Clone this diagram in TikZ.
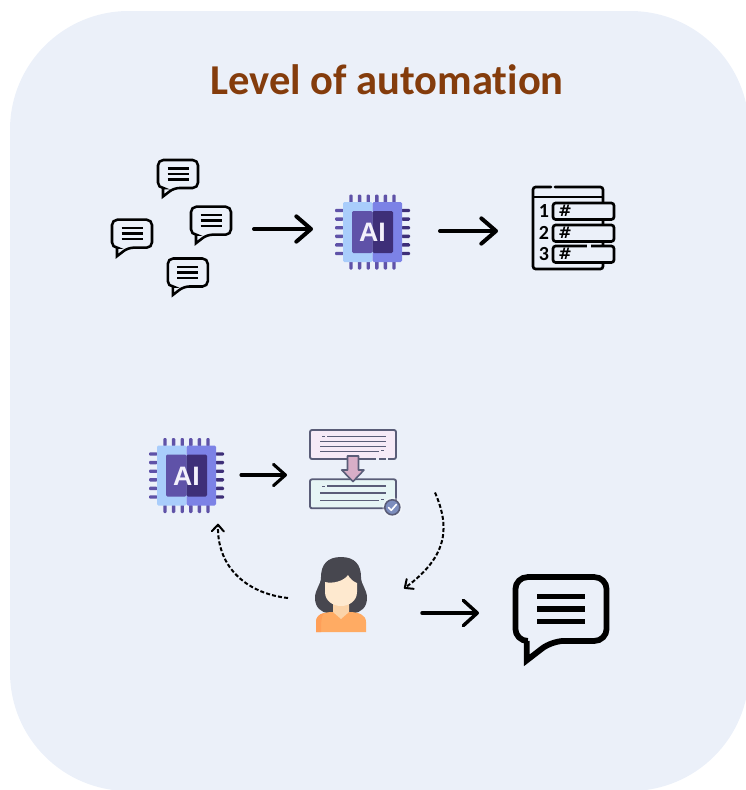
\documentclass[tikz,border=0pt]{standalone}
\usepackage{fontspec}
\usepackage{xcolor}
\usetikzlibrary{arrows.meta,positioning,calc}
\newfontfamily\carlito{Carlito}[Ligatures=NoCommon]
\newfontfamily\chipfont{Liberation Sans}
\newfontfamily\hashfont{DejaVu Sans}
\definecolor{panelbg}{HTML}{EBF0F9}
\definecolor{titlebrown}{HTML}{843C0C}
\definecolor{chiplight}{HTML}{A9CDFB}
\definecolor{chipmid}{HTML}{7C82E6}
\definecolor{chipcore}{HTML}{5F52A8}
\definecolor{chipdark}{HTML}{3E2F78}
\definecolor{chiptext}{HTML}{F3F0FB}
\definecolor{editline}{HTML}{5A5D78}
\definecolor{editpink}{HTML}{F6EAF7}
\definecolor{editmint}{HTML}{E6F5F5}
\definecolor{editarrow}{HTML}{D8AEC7}
\definecolor{editbadge}{HTML}{7C8DBD}
\definecolor{hairdark}{HTML}{47474F}
\definecolor{skinlight}{HTML}{FEE9CF}
\definecolor{skindark}{HTML}{FBD3A8}
\definecolor{shirt}{HTML}{FFAB63}
\definecolor{shirtdark}{HTML}{FF9F58}
\tikzset{
	spot/.style={inner sep=0pt,outer sep=0pt,minimum width=#1*0.75pt},
	bigarrow/.style={->,>={Straight Barb[round,length=11pt,width=19pt]},line width=3pt,line cap=round},
	midarrow/.style={->,>={Straight Barb[round,length=9pt,width=16pt]},line width=2.3pt,line cap=round},
	smallarrow/.style={->,>={Straight Barb[round,length=10.5pt,width=19pt]},line width=2.6pt,line cap=round},
	dasharrow/.style={->,>={Straight Barb[round,length=5pt,width=9pt]},line width=1.5pt,dash pattern=on 3pt off 1.6pt},
	pics/bubble/.style={code={
		\begin{scope}[scale=#1]
			\draw[line width=#1*1.9pt,line join=miter]
				(0,-14) [rounded corners=#1*4pt] -- (20,-14) -- (20,14) -- (-4,14) [sharp corners] -- (-15,22.5) -- (-15,14)
				[rounded corners=#1*4pt] -- (-20,14) -- (-20,-14) -- cycle;
			\foreach \y in {-5.5,0,5.5}
				\draw[line width=#1*1.9pt] (-10.5,\y) -- (10.5,\y);
		\end{scope}
	}},
	pics/chip/.style={code={
		% pins as filled bars
		\foreach \p in {-21.5,-12.9,-4.3,4.3,12.9,21.5}{
			\fill[chipcore,rounded corners=0.8pt] (\p-1.7,-37.5) rectangle (\p+1.7,-29);
			\fill[chipcore,rounded corners=0.8pt] (\p-1.7,29) rectangle (\p+1.7,37.5);
			\fill[chipcore,rounded corners=0.8pt] (-37.5,\p-1.7) rectangle (-29,\p+1.7);
			\fill[chipdark,rounded corners=0.8pt] (29,\p-1.7) rectangle (37.5,\p+1.7);
		}
		\fill[chiplight,rounded corners=1pt] (-29.5,-30) rectangle (0,30);
		\fill[chipmid,rounded corners=1pt] (0,-30) rectangle (29.5,30);
		\fill[chipcore,rounded corners=1pt] (-20.5,-21) rectangle (0,21);
		\fill[chipdark,rounded corners=1pt] (0,-21) rectangle (20.5,21);
		\node[text=chiptext] (-ailabel) at (0,0.5) {\chipfont\bfseries\fontsize{20}{20}\selectfont AI};
	}},
	pics/rankicon/.style={code={
		\draw[line width=2pt,line cap=round,rounded corners=2pt] (-22,-41) -- (-40,-41) -- (-40,41) -- (30,41) -- (30,-41) -- (-18,-41);
		\draw[line width=2pt] (-40,-31) -- (30,-31);
		\foreach \y/\n in {-25/1,-3/2,18/3}{
			\draw[line width=2pt,fill=panelbg,rounded corners=2pt] (-20,\y) rectangle (41,\y+16.5);
			\node (-num\n) at (-29,\y+8) {\carlito\bfseries\fontsize{15}{15}\selectfont\n};
			\node (-hash\n) at (-8,\y+8) {\hashfont\bfseries\fontsize{12}{12}\selectfont\#};
		}
		\draw[panelbg,line width=2.6pt] (14,18) -- (18,18);
	}},
	pics/editicon/.style={code={
		\draw[editline,line width=1.4pt,fill=editpink,rounded corners=1.5pt] (-43,-45) rectangle (43,-16);
		\draw[editline,line width=1.4pt,fill=editmint,rounded corners=1.5pt] (-43,4.3) rectangle (43,33.3);
		\foreach \y/\a/\b in {-38.5/-26/33,-33.5/-33/33,-28.5/-33/33,-23.5/-33/26,11/-26/33,18/-33/33,25.5/-33/26}
			\draw[editline,line width=0.9pt] (\a,\y) -- (\b,\y);
		\draw[editline,line width=0.6pt] (-31,-38.5) -- (-28,-38.5) (28,-24.5) -- (31,-24.5) (-31,11) -- (-28,11) (28,24.5) -- (31,24.5);
		\draw[panelbg,line width=1.6pt] (23,-16) -- (25.5,-16) (33,-16) -- (35,-16);
		\draw[editline,line width=1.2pt,fill=editarrow,line join=round] (-5.5,-19) -- (5.5,-19) -- (5.5,-5) -- (11,-5) -- (0,6.5) -- (-11.3,-5) -- (-5.5,-5) -- cycle;
		\fill[white,opacity=.35] (39.3,32.3) circle (10);
		\draw[editline,line width=1.2pt,fill=editbadge] (39.3,32.3) circle (7.5);
		\draw[white,line width=1.2pt,line cap=round,line join=round] (35.5,32.5) -- (38.3,35.3) -- (43.3,29.5);
	}},
	pics/agent/.style={code={
		% hair, then shirt, neck and face on top of it
		\fill[hairdark] (0,-38) .. controls (14,-38) and (20,-30) .. (20,-18) .. controls (20,-10) and (26,-6) .. (26,3)
			.. controls (26,12) and (20,18) .. (12,18) -- (-12,18) .. controls (-20,18) and (-26,12) .. (-26,3)
			.. controls (-26,-6) and (-20,-10) .. (-20,-18) .. controls (-20,-30) and (-14,-38) .. (0,-38) -- cycle;
		\fill[shirt] (-25,37) -- (-25,27) .. controls (-25,20) and (-18,17) .. (-8,17) -- (8,17) .. controls (18,17) and (25,20) .. (25,27) -- (25,37) -- cycle;
		\fill[shirtdark] (-25,37) -- (-25,27) .. controls (-25,22) and (-22,19) .. (-17,18) .. controls (-20,22) and (-20,28) .. (-20,37) -- cycle;
		\fill[skindark] (-8,8) -- (-8,17) -- (0,24) -- (8,17) -- (8,8) -- cycle;
		\fill[skinlight] (-16,-13) .. controls (-8,-11) and (3,-14) .. (7,-20) .. controls (9,-16) and (13,-13) .. (16,-12)
			-- (16,-3) .. controls (16,6) and (8,11) .. (0,11) .. controls (-8,11) and (-16,6) .. (-16,-3) -- cycle;
	}}
}
\begin{document}
\begin{tikzpicture}[x=0.75pt,y=-0.75pt]
	\useasboundingbox (0,0) rectangle (746,790);
	\clip (0,0) rectangle (746,790);
	\fill[panelbg,rounded corners=89pt] (10,11) rectangle (749,791);
	\node[text=titlebrown] (title) at (387,80) {\carlito\bfseries\fontsize{31.9}{34}\selectfont Level of automation};

	\pic at (178,174) {bubble=1};
	\pic at (211,220.7) {bubble=1};
	\pic at (132,233.7) {bubble=1};
	\pic at (187.8,272.5) {bubble=1};
	\pic (topchip) at (372.5,232) {chip};
	\pic (rankbox) at (573,228) {rankicon};
	\pic (lowchip) at (186.5,475.5) {chip};
	\pic at (353,475) {editicon};
	\pic at (341,595) {agent};
	\pic at (561,609) {bubble=2.28};

	\node[spot=144] (msgs) at (182,229) {};
	\node[spot=118] (ai1) at (372,231) {};
	\node[spot=136] (ai1out) at (372,231) {};
	\node[spot=150] (rank) at (573,231) {};
	\node[spot=110] (ai2) at (186,475) {};
	\node[spot=132] (edit) at (353,475) {};
	\node[spot=52] (person) at (341,595) {};
	\node[spot=164] (reply) at (561,613) {};
	\coordinate (editout) at ($(edit.east)+(16,17.5)$);
	\coordinate (personin) at ($(person.east)+(37,-6.5)$);
	\coordinate (personout) at ($(person.west)+(-27,3)$);
	\coordinate (ai2in) at ($(ai2.south)+(32,48)$);

	\draw[bigarrow] (msgs.east) -- (msgs.east -| ai1.west);
	\draw[bigarrow] (ai1out.east) -- (rank.west);
	\draw[midarrow] (ai2.east) -- (edit.west);
	\draw[smallarrow] (person.east |- reply.west) ++(55,0) -- (reply.west);
	\draw[dasharrow] (editout) .. controls (449,525) and (450,555) .. (personin);
	\draw[dasharrow] (personout) .. controls (250,594) and (217,570) .. (ai2in);
\end{tikzpicture}
\end{document}
